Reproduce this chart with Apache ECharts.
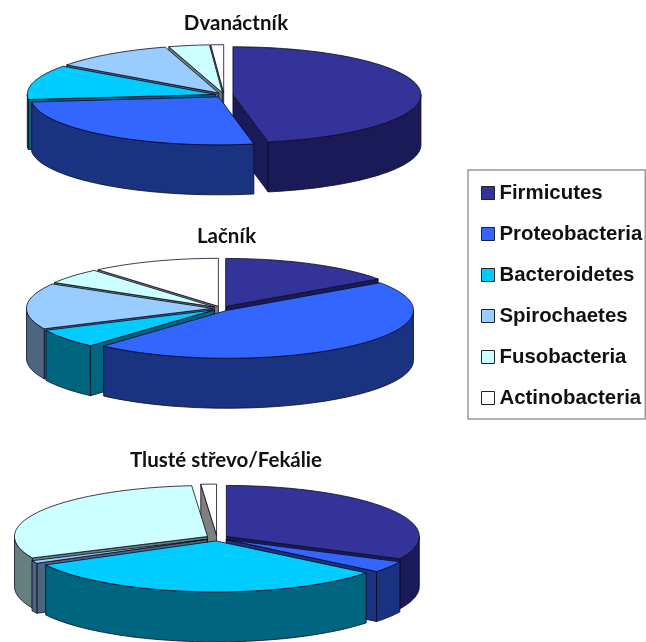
<!DOCTYPE html>
<html>
<head>
<meta charset="utf-8">
<style>html,body{margin:0;padding:0;background:#fff}#chart{width:646px;height:642px}</style>
<script src="https://cdn.jsdelivr.net/npm/echarts@6/dist/echarts.min.js"></script>
</head>
<body>
<div id="chart"></div>
<script>
// Share of each phylum (%) along the gut
var categories = ['Firmicutes', 'Proteobacteria', 'Bacteroidetes', 'Spirochaetes', 'Fusobacteria', 'Actinobacteria'];
var dvanactnik = [47, 26.3, 11.7, 10.4, 3.5, 1.1];
var lacnik = [15.3, 46.3, 6.4, 15.5, 5.3, 11.2];
var tlusteStrevo = [32.2, 3.6, 31.4, 0.9, 30.6, 1.3];

var topColors = ['#333399', '#3366ff', '#00ccff', '#99ccff', '#ccffff', '#ffffff'];
var sideColors = ['#1a1a59', '#1a3380', '#006680', '#4d6680', '#668080', '#808080'];

// Geometry of the tilted discs
var pies = [
  { title: 'Dvanáctník', values: dvanactnik, cx: 224, cy: 95, rx: 188, ry: 48, depth: 50, explode: 9, titleX: 236, titleY: 13 },
  { title: 'Lačník', values: lacnik, cx: 221.5, cy: 308.5, rx: 186, ry: 48, depth: 50, explode: 9, titleX: 226.5, titleY: 226 },
  { title: 'Tlusté střevo/Fekálie', values: tlusteStrevo, cx: 217, cy: 538, rx: 193, ry: 51, depth: 50, explode: 11, titleX: 226, titleY: 450 }
];

function rad(deg) { return deg * Math.PI / 180; }

function wedgeAngles(values, index) {
  var total = values.reduce(function (a, b) { return a + b; }, 0);
  var before = values.slice(0, index).reduce(function (a, b) { return a + b; }, 0);
  return [before / total * 360, (before + values[index]) / total * 360];
}

function wedgeRenderer(pie, catIndex) {
  return function () {
    var ang = wedgeAngles(pie.values, catIndex);
    var start = ang[0], end = ang[1], mid = (start + end) / 2;
    var ax = pie.cx + pie.explode * Math.sin(rad(mid));
    var ay = pie.cy - pie.explode * Math.cos(rad(mid)) * pie.ry / pie.rx;
    var rim = function (a, drop) {
      return [ax + pie.rx * Math.sin(rad(a)), ay - pie.ry * Math.cos(rad(a)) + drop];
    };
    var face = function (pts, fill) {
      return {
        type: 'polygon',
        shape: { points: pts },
        style: { fill: fill, stroke: '#0a0a1e', lineWidth: 0.8, lineJoin: 'round' }
      };
    };
    var side = sideColors[catIndex], children = [];

    // radial cut faces that look towards the viewer
    var cut = function (a) {
      return face([[ax, ay], rim(a, 0), rim(a, pie.depth), [ax, ay + pie.depth]], side);
    };
    if (Math.sin(rad(start)) < -1e-6) children.push(cut(start));
    if (Math.sin(rad(end)) > 1e-6) children.push(cut(end));

    // curved outer wall on the front half of the disc
    var a0 = Math.max(start, 90), a1 = Math.min(end, 270);
    if (a1 > a0) {
      var upper = [], lower = [], n = Math.ceil((a1 - a0) / 2);
      for (var i = 0; i <= n; i++) {
        var a = a0 + (a1 - a0) * i / n;
        upper.push(rim(a, 0));
        lower.unshift(rim(a, pie.depth));
      }
      children.push(face(upper.concat(lower), side));
    }

    // top surface
    var topPts = [[ax, ay]], m = Math.max(2, Math.ceil((end - start) / 2));
    for (var j = 0; j <= m; j++) topPts.push(rim(start + (end - start) * j / m, 0));
    children.push(face(topPts, topColors[catIndex]));

    return { type: 'group', children: children };
  };
}

// Far wedges are painted first, near wedges over them
var series = [];
pies.forEach(function (pie, p) {
  var order = categories.map(function (_, c) {
    var ang = wedgeAngles(pie.values, c);
    return { c: c, depth: Math.cos(rad((ang[0] + ang[1]) / 2)) };
  }).sort(function (a, b) { return b.depth - a.depth; });
  order.forEach(function (o, rank) {
    series.push({
      type: 'custom',
      name: categories[o.c],
      coordinateSystem: 'none',
      silent: true,
      z: 2 + rank,
      itemStyle: { color: topColors[o.c] },
      data: [[pie.values[o.c]]],
      renderItem: wedgeRenderer(pie, o.c)
    });
  });
});

var chart = echarts.init(document.getElementById('chart'), null, { renderer: 'canvas' });
chart.setOption({
  animation: false,
  backgroundColor: '#fff',
  title: pies.map(function (pie) {
    return {
      text: pie.title,
      left: pie.titleX,
      top: pie.titleY,
      textAlign: 'center',
      padding: 0,
      textStyle: { fontFamily: 'Lato', fontWeight: 'bold', fontSize: 20.5, color: '#111' }
    };
  }),
  legend: {
    data: categories,
    orient: 'vertical',
    left: 468,
    top: 170,
    padding: [13, 3, 11, 13],
    itemWidth: 13,
    itemHeight: 13,
    itemGap: 21,
    icon: 'rect',
    selectedMode: false,
    backgroundColor: '#fff',
    borderColor: '#999',
    borderWidth: 1.5,
    itemStyle: { borderColor: '#222', borderWidth: 1 },
    textStyle: {
      fontFamily: 'Liberation Sans',
      fontWeight: 'bold',
      fontSize: 20.4,
      lineHeight: 20,
      color: '#111'
    }
  },
  series: series
});
</script>
</body>
</html>
